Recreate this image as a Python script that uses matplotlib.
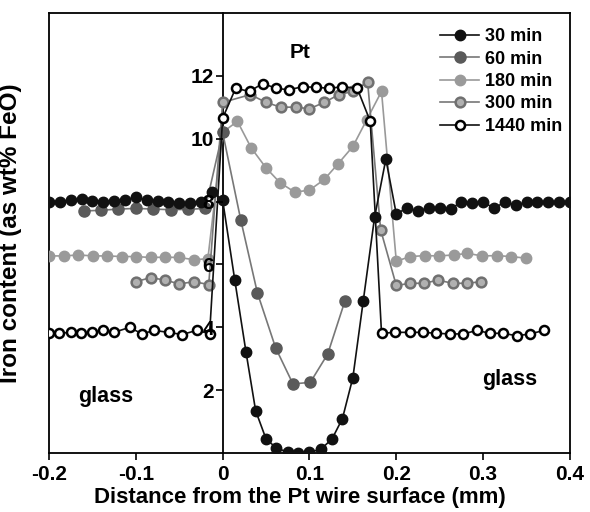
import matplotlib

matplotlib.use("Agg")
import matplotlib.pyplot as plt

plt.rcParams["font.family"] = ["Liberation Sans", "DejaVu Sans"]
plt.rcParams["font.weight"] = "bold"

# 30 min
x30 = [-0.2, -0.1875, -0.175, -0.1625, -0.15, -0.1375, -0.125, -0.1125, -0.1, -0.0875,
       -0.075, -0.0625, -0.05, -0.0375, -0.025, -0.012,
       0.0, 0.014, 0.027, 0.038, 0.05, 0.062, 0.075, 0.087, 0.1, 0.113, 0.126, 0.138,
       0.15, 0.162, 0.175, 0.188, 0.2,
       0.2125, 0.225, 0.2375, 0.25, 0.2625, 0.275, 0.2875, 0.3, 0.3125, 0.325, 0.3375,
       0.35, 0.3625, 0.375, 0.3875, 0.4]
y30 = [8.0, 8.0, 8.05, 8.07, 8.03, 8.0, 8.02, 8.05, 8.14, 8.05,
       8.02, 8.0, 7.95, 7.95, 8.0, 8.3,
       8.05, 5.5, 3.2, 1.35, 0.45, 0.16, 0.03, 0.0, 0.03, 0.12, 0.45, 1.1,
       2.4, 4.85, 7.5, 9.35, 7.6,
       7.8, 7.7, 7.8, 7.8, 7.75, 8.0, 7.95, 7.97, 7.8, 7.97, 7.9,
       7.97, 8.0, 7.97, 7.97, 7.97]

# 60 min
x60 = [-0.16, -0.14, -0.12, -0.1, -0.08, -0.06, -0.04, -0.02,
       0.0, 0.021, 0.04, 0.061, 0.081, 0.101, 0.121, 0.141]
y60 = [7.7, 7.72, 7.76, 7.78, 7.76, 7.74, 7.75, 7.78,
       10.2, 7.4, 5.1, 3.35, 2.2, 2.25, 3.15, 4.85]

# 180 min
x180 = [-0.2, -0.183, -0.166, -0.149, -0.133, -0.116, -0.1, -0.083, -0.066, -0.05,
        -0.033, -0.017,
        0.0, 0.017, 0.033, 0.05, 0.066, 0.083, 0.1, 0.117, 0.133, 0.15, 0.166, 0.183,
        0.2, 0.216, 0.233, 0.249, 0.266, 0.282, 0.299, 0.316, 0.332, 0.349]
y180 = [6.27, 6.27, 6.3, 6.27, 6.27, 6.25, 6.25, 6.22, 6.23, 6.22,
        6.15, 6.18,
        10.2, 10.55, 9.7, 9.07, 8.6, 8.3, 8.36, 8.7, 9.2, 9.75, 10.6, 11.5,
        6.1, 6.25, 6.28, 6.27, 6.3, 6.35, 6.27, 6.28, 6.25, 6.2]

# 300 min
x300 = [-0.1, -0.083, -0.066, -0.05, -0.033, -0.016,
        0.0, 0.032, 0.05, 0.067, 0.084, 0.1, 0.117, 0.134, 0.15, 0.167, 0.182,
        0.2, 0.216, 0.232, 0.248, 0.265, 0.281, 0.298]
y300 = [5.45, 5.58, 5.5, 5.38, 5.45, 5.36,
        11.15, 11.4, 11.15, 11.0, 11.0, 10.95, 11.15, 11.4, 11.5, 11.8, 7.1,
        5.33, 5.4, 5.4, 5.5, 5.4, 5.4, 5.45]

# 1440 min
x1440 = [-0.2, -0.188, -0.175, -0.163, -0.15, -0.138, -0.125, -0.107, -0.093, -0.079,
         -0.062, -0.047, -0.03, -0.015,
         0.0, 0.015, 0.031, 0.046, 0.062, 0.076, 0.092, 0.108, 0.123, 0.138, 0.155, 0.17,
         0.183, 0.199, 0.216, 0.231, 0.246, 0.262, 0.277, 0.293, 0.308, 0.323, 0.339,
         0.354, 0.37]
y1440 = [3.82, 3.81, 3.84, 3.82, 3.84, 3.9, 3.84, 4.0, 3.79, 3.9,
         3.84, 3.77, 3.9, 3.8,
         10.65, 11.6, 11.5, 11.75, 11.6, 11.55, 11.65, 11.63, 11.6, 11.65, 11.6, 10.55,
         3.81, 3.84, 3.84, 3.84, 3.81, 3.79, 3.79, 3.9, 3.81, 3.81, 3.73,
         3.79, 3.9]

fig = plt.figure(figsize=(5.9, 5.12), dpi=100)
ax = fig.add_axes([0.083, 0.115, 0.883, 0.86])

ax.plot(x30, y30, "-o", color="#111111", lw=1.2, ms=7.5, mfc="#111111", mec="#111111",
        label="30 min", zorder=5)
ax.plot(x60, y60, "-o", color="#777777", lw=1.2, ms=8, mfc="#5a5a5a", mec="#5a5a5a",
        label="60 min", zorder=4)
ax.plot(x180, y180, "-o", color="#999999", lw=1.2, ms=7.5, mfc="#9a9a9a", mec="#9a9a9a",
        label="180 min", zorder=3)
ax.plot(x300, y300, "-o", color="#777777", lw=1.2, ms=7, mfc="#b0b0b0", mec="#707070",
        mew=1.8, label="300 min", zorder=3)
ax.plot(x1440, y1440, "-o", color="#111111", lw=1.2, ms=6.5, mfc="white", mec="#000000",
        mew=1.8, label="1440 min", zorder=6)

ax.set_xlim(-0.2, 0.4)
ax.set_ylim(0, 14)
ax.set_xticks([-0.2, -0.1, 0, 0.1, 0.2, 0.3, 0.4])
ax.set_xticklabels(["-0.2", "-0.1", "0", "0.1", "0.2", "0.3", "0.4"])
ax.set_yticks([2, 4, 6, 8, 10, 12])

for s in ax.spines.values():
    s.set_linewidth(1.3)
ax.spines["left"].set_position(("data", 0))
# outer frame edge on the left side
ax.plot([0, 0], [0, 1], transform=ax.transAxes, color="black", lw=1.3, clip_on=False)

ax.tick_params(axis="both", direction="out", length=5, width=1.2, labelsize=15)
ax.tick_params(axis="y", pad=1)
# y tick labels sit on top of the data, as in the original
ax.yaxis.set_zorder(10)

ax.set_xlabel("Distance from the Pt wire surface (mm)", fontsize=16, fontweight="bold")
ax.set_ylabel("Iron content (as wt% FeO)", fontsize=17.5, fontweight="bold")
ax.xaxis.set_label_coords(0.482, -0.078)
ax.yaxis.set_label_coords(-0.052, 0.5)

ax.text(0.089, 12.75, "Pt", fontsize=15, fontweight="bold", ha="center", va="center")
ax.text(-0.135, 1.8, "glass", fontsize=15.5, fontweight="bold", ha="center", va="center")
ax.text(0.331, 2.35, "glass", fontsize=15.5, fontweight="bold", ha="center", va="center")

ax.legend(loc="upper left", bbox_to_anchor=(0.75, 0.965), frameon=False, fontsize=13,
          handlelength=2.2, handletextpad=0.3, labelspacing=0.3, borderpad=0,
          borderaxespad=0)

fig.savefig("out.png", dpi=100)
